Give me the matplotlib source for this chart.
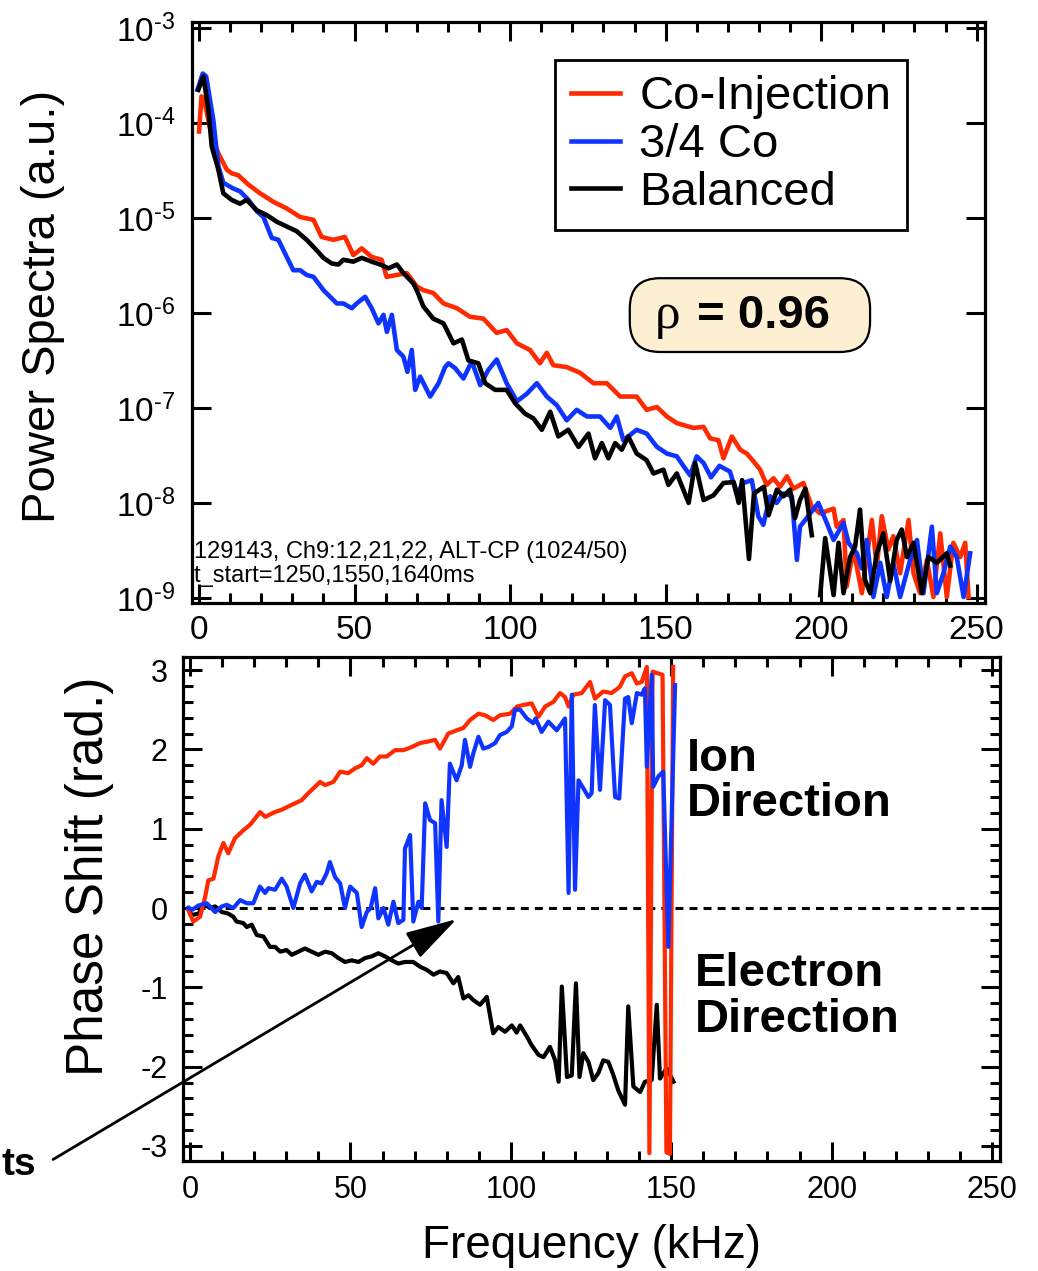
import numpy as np
import matplotlib
matplotlib.use("Agg")
import matplotlib.pyplot as plt
from matplotlib.patches import FancyBboxPatch
from matplotlib.ticker import MultipleLocator, NullLocator

plt.rcParams['font.family'] = ['Liberation Sans', 'DejaVu Sans']
plt.rcParams['mathtext.fontset'] = 'custom'
plt.rcParams['mathtext.rm'] = 'Liberation Sans'
plt.rcParams['mathtext.it'] = 'Liberation Sans:italic'
plt.rcParams['mathtext.bf'] = 'Liberation Sans:bold'
plt.rcParams['axes.unicode_minus'] = False

RED = '#ff2a00'
BLUE = '#1034ff'
BLACK = 'black'

# ==============================
# Power spectra (log10 of a.u.), frequency in kHz
# ==============================

co_f = [0.0, 0.8, 1.6, 4.1, 6.2, 8.9, 10.5, 12.6, 15.9, 19.6, 23.9, 28.2, 32.5, 36.8,
        39.4, 43.2, 46.9, 49.6, 52.3, 55.5, 58.7, 60.3, 63.6, 66.8, 70.0, 72.1, 75.3,
        78.6, 82.9, 87.1, 91.4, 95.7, 98.9, 102.2, 106.4, 109.6, 111.8, 113.9, 118.2,
        122.5, 126.8, 131.1, 135.4, 140.7, 143.9, 147.2, 150.4, 153.6, 158.9, 162.2,
        164.3, 167.0, 168.6, 171.3, 174.0, 176.1, 178.2, 180.4, 182.5, 184.7, 186.8,
        189.0, 191.1, 194.3, 197.0, 199.7, 204.0, 205.0, 207.2, 208.2, 210.4, 213.1,
        216.3, 217.9, 219.5, 221.6, 223.2, 225.4, 228.1, 229.7, 231.8, 234.0, 236.1,
        238.3, 240.4, 242.5, 244.7, 246.3, 247.4]
co_log = [-4.09, -3.72, -3.75, -4.14, -4.32, -4.49, -4.53, -4.55, -4.65, -4.74, -4.83, -4.90,
          -4.99, -5.02, -5.20, -5.23, -5.20, -5.39, -5.32, -5.41, -5.44, -5.62, -5.60, -5.58,
          -5.72, -5.76, -5.79, -5.90, -5.95, -6.04, -6.06, -6.21, -6.18, -6.32, -6.39, -6.53,
          -6.42, -6.55, -6.57, -6.63, -6.74, -6.74, -6.88, -6.88, -7.02, -6.99, -7.09, -7.16,
          -7.21, -7.20, -7.32, -7.34, -7.53, -7.30, -7.44, -7.48, -7.56, -7.65, -7.81, -7.74,
          -7.83, -7.72, -7.85, -7.79, -8.04, -8.11, -8.06, -8.25, -8.18, -8.88, -8.49, -8.95,
          -8.18, -8.67, -8.14, -8.49, -8.35, -8.74, -8.18, -8.74, -8.95, -8.60, -8.99, -8.32,
          -8.99, -8.42, -8.57, -8.42, -8.99]

q34_f = [-0.5, 1.2, 2.3, 4.6, 6.2, 7.8, 11.0, 13.2, 15.9, 18.6, 20.7, 23.4, 25.5, 28.2,
         30.3, 32.5, 34.6, 36.8, 40.0, 44.3, 46.4, 49.1, 50.7, 53.4, 55.5, 57.7, 59.3, 60.4,
         62.0, 63.6, 65.7, 67.0, 68.4, 69.5, 71.1, 74.3, 77.0, 79.1, 80.2, 82.3, 85.0, 87.7,
         90.4, 93.0, 95.7, 98.9, 102.2, 105.4, 108.6, 111.8, 115.0, 118.2, 121.4, 124.7,
         128.9, 132.2, 134.3, 136.4, 140.7, 143.9, 147.2, 150.4, 153.6, 155.5, 157.9, 160.0,
         162.2, 164.6, 167.3, 170.7, 172.8, 175.0, 177.7, 179.8, 181.4, 183.6, 185.7, 187.9,
         190.6, 192.2, 193.2, 196.5, 199.1, 201.8, 204.0, 207.2, 208.8, 211.5, 213.1, 214.7,
         216.8, 219.0, 221.1, 223.2, 225.4, 228.6, 230.8, 232.9, 235.6, 237.2, 239.3, 241.5,
         243.6, 245.8, 247.9]
q34_log = [-3.65, -3.48, -3.51, -3.97, -4.45, -4.63, -4.69, -4.72, -4.81, -4.93, -4.99, -5.21,
           -5.23, -5.41, -5.55, -5.55, -5.60, -5.62, -5.76, -5.90, -5.90, -5.95, -5.90, -5.83,
           -5.95, -6.11, -6.02, -6.20, -6.02, -6.39, -6.46, -6.62, -6.39, -6.81, -6.67, -6.88,
           -6.74, -6.57, -6.53, -6.58, -6.69, -6.51, -6.76, -6.60, -6.49, -6.74, -6.93, -6.85,
           -6.74, -6.88, -6.97, -7.13, -7.02, -7.09, -7.09, -7.21, -7.09, -7.34, -7.23, -7.27,
           -7.41, -7.48, -7.51, -7.60, -7.71, -7.51, -7.58, -7.73, -7.61, -7.67, -7.90, -7.79,
           -7.76, -8.14, -8.23, -7.93, -8.00, -7.90, -7.93, -8.60, -8.25, -8.11, -8.00, -8.21,
           -8.39, -8.21, -8.42, -8.53, -8.69, -8.39, -8.99, -8.63, -8.99, -8.63, -8.99, -8.60,
           -8.39, -8.95, -8.25, -8.95, -8.74, -8.46, -8.57, -8.99, -8.53]

bal_f = [-0.2, 1.4, 3.0, 4.1, 6.2, 7.8, 10.5, 13.2, 15.3, 18.6, 21.8, 25.0, 28.2, 31.4,
         34.6, 37.8, 40.0, 42.7, 44.8, 46.4, 49.6, 52.3, 55.5, 58.2, 60.9, 63.6, 65.7, 68.9,
         70.0, 72.1, 75.3, 78.6, 81.8, 84.5, 86.6, 89.8, 92.0, 95.2, 98.9, 101.6, 104.8,
         107.5, 110.2, 112.9, 115.5, 118.7, 122.0, 125.2, 127.3, 129.5, 131.6, 133.8, 135.9,
         138.0, 140.7, 143.9, 146.1, 149.3, 150.9, 153.6, 157.4, 159.5, 162.2, 165.4, 168.6,
         171.9, 173.5, 174.6, 176.8, 178.4, 181.6, 183.1, 185.8, 187.9, 190.0, 191.6, 193.2,
         194.9, 197.0, 198.4, 199.7, 201.3, 204.0, 205.6, 207.2, 209.3, 210.9, 212.5, 214.1,
         215.8, 217.9, 220.0, 222.2, 224.3, 225.9, 227.6, 229.7, 232.4, 234.5, 237.2, 240.4,
         241.5]
bal_log = [-3.65, -3.51, -3.86, -4.25, -4.49, -4.74, -4.81, -4.85, -4.81, -4.92, -4.97, -5.04,
           -5.09, -5.14, -5.23, -5.34, -5.42, -5.48, -5.49, -5.44, -5.46, -5.42, -5.46, -5.49,
           -5.53, -5.49, -5.58, -5.69, -5.76, -5.93, -6.06, -6.11, -6.32, -6.28, -6.50, -6.53,
           -6.74, -6.81, -6.81, -6.95, -7.06, -7.11, -7.23, -7.04, -7.30, -7.23, -7.41, -7.27,
           -7.53, -7.37, -7.53, -7.37, -7.44, -7.30, -7.48, -7.55, -7.69, -7.65, -7.81, -7.69,
           -8.00, -7.58, -7.97, -7.92, -7.79, -7.78, -8.00, -7.76, -8.59, -7.90, -7.83, -8.13,
           -7.86, -7.93, -7.86, -8.16, -7.97, -7.85, -8.34, np.nan, -8.97, -8.37, -8.97, -8.42,
           -8.95, -8.57, -8.46, -8.07, -8.81, -8.95, -8.53, -8.32, -8.82, -8.39, -8.28, -8.57,
           -8.42, -8.95, -8.57, -8.63, -8.53, -8.66]

# ==============================
# Phase shift (rad), frequency in kHz
# ==============================

co_pf = [-0.5, 1.0, 3.1, 4.7, 5.7, 7.3, 8.8, 10.4, 11.9, 14.0, 16.6, 18.7, 20.3, 21.8, 23.4,
         26.5, 28.6, 30.6, 32.7, 34.8, 36.9, 39.0, 40.5, 42.1, 44.7, 46.8, 49.3, 51.4, 53.5,
         55.1, 57.1, 59.2, 61.3, 63.9, 66.5, 69.1, 71.7, 74.3, 76.4, 77.9, 80.5, 83.1, 85.2,
         87.3, 89.9, 92.0, 94.5, 96.6, 99.8, 101.9, 103.9, 106.5, 108.6, 110.7, 113.3, 115.3,
         116.9, 118.0, 119.5, 122.1, 124.7, 126.2, 128.8, 131.4, 134.0, 135.6, 137.7, 139.3,
         140.8, 142.4, 143.2, 144.2, 145.8, 147.3, 148.5, 149.6, 150.6]
co_phase = [-0.03, -0.17, -0.11, 0.14, 0.35, 0.37, 0.65, 0.82, 0.69, 0.88, 0.98, 1.05, 1.13,
            1.21, 1.15, 1.21, 1.24, 1.28, 1.32, 1.36, 1.45, 1.53, 1.59, 1.55, 1.59, 1.72, 1.70,
            1.76, 1.80, 1.89, 1.82, 1.91, 1.91, 1.99, 1.99, 2.03, 2.08, 2.10, 2.12, 2.01, 2.20,
            2.24, 2.27, 2.37, 2.45, 2.43, 2.37, 2.43, 2.45, 2.54, 2.56, 2.58, 2.41, 2.54, 2.60,
            2.71, 2.66, 2.54, 2.69, 2.71, 2.85, 2.64, 2.73, 2.71, 2.79, 2.92, 2.96, 2.83, 2.85,
            3.04, -3.09, 2.98, 2.96, 2.94, -3.08, -3.10, 3.04]

q34_pf = [-0.5, 0.8, 2.5, 5.2, 7.8, 9.9, 11.4, 13.5, 15.6, 17.7, 19.7, 21.8, 23.4, 24.4, 26.5,
          28.6, 30.1, 32.2, 34.3, 35.8, 37.9, 39.5, 41.0, 42.6, 43.6, 45.2, 46.8, 48.3, 49.9,
          52.0, 53.5, 55.1, 56.3, 57.7, 58.7, 60.3, 61.8, 63.4, 64.9, 66.5, 67.0, 68.6, 69.6,
          71.2, 72.2, 73.3, 74.8, 76.4, 77.4, 78.4, 80.0, 81.0, 83.1, 84.7, 85.7, 87.3, 88.3,
          89.9, 91.4, 93.0, 95.1, 96.6, 98.7, 100.3, 101.3, 102.9, 105.0, 107.0, 107.7, 109.6,
          111.7, 114.3, 116.9, 118.0, 119.0, 120.0, 121.1, 122.6, 124.2, 125.2, 126.2, 127.8,
          129.4, 130.9, 132.5, 133.8, 135.6, 136.6, 137.7, 139.3, 140.8, 141.8, 142.4, 143.9,
          144.4, 146.0, 147.5, 149.1, 151.2]
q34_phase = [0.00, -0.02, 0.03, 0.06, -0.05, 0.02, 0.04, 0.00, 0.10, 0.06, 0.06, 0.27, 0.19,
             0.25, 0.23, 0.37, 0.27, 0.00, 0.31, 0.42, 0.21, 0.33, 0.31, 0.44, 0.58, 0.39, 0.31,
             0.00, 0.27, 0.19, -0.24, -0.05, 0.00, 0.25, -0.13, 0.00, -0.21, 0.08, -0.19, -0.15,
             0.75, 0.92, -0.17, 0.08, 0.00, 1.32, 1.11, 1.07, -0.17, 1.36, 0.77, 1.82, 1.61,
             1.80, 2.12, 1.78, 1.95, 2.16, 2.01, 2.03, 2.08, 2.18, 2.22, 2.29, 2.50, 2.50, 2.39,
             2.33, 2.39, 2.22, 2.35, 2.24, 2.39, 0.19, 2.69, 0.23, 1.61, 1.51, 1.40, 1.45, 2.56,
             1.49, 2.62, 2.56, 1.40, 1.38, 2.64, 2.66, 2.33, 2.71, 2.69, 2.77, 1.78, 2.94, 1.53,
             1.66, 1.72, -0.49, 2.81]

bal_pf = [-0.5, 0.5, 2.6, 4.7, 6.2, 7.8, 9.9, 11.9, 13.5, 14.5, 16.6, 17.7, 19.2, 20.8, 22.9,
          24.9, 26.5, 28.1, 30.1, 31.7, 33.8, 35.8, 37.9, 40.0, 42.1, 44.2, 46.2, 48.3, 50.4,
          52.5, 54.6, 56.6, 58.7, 60.8, 62.9, 64.9, 67.0, 69.6, 71.7, 73.8, 75.9, 77.9, 80.0,
          82.1, 83.6, 85.2, 86.8, 88.3, 90.4, 92.5, 94.5, 96.1, 98.2, 100.3, 101.8, 102.9,
          105.0, 106.5, 108.6, 110.2, 112.2, 113.8, 114.9, 115.9, 117.5, 119.0, 120.3, 121.4,
          122.6, 124.2, 125.7, 127.3, 128.8, 130.4, 132.0, 133.5, 135.6, 136.6, 138.2, 140.3,
          141.8, 143.9, 145.5, 146.5, 148.6, 150.7]
bal_phase = [0.00, -0.09, -0.07, 0.04, 0.00, 0.02, -0.05, -0.07, -0.11, -0.17, -0.19, -0.24,
             -0.21, -0.34, -0.36, -0.49, -0.49, -0.55, -0.53, -0.59, -0.55, -0.51, -0.55, -0.59,
             -0.55, -0.57, -0.63, -0.68, -0.66, -0.68, -0.63, -0.61, -0.57, -0.61, -0.66, -0.70,
             -0.68, -0.68, -0.74, -0.78, -0.84, -0.80, -0.82, -0.95, -0.87, -1.14, -1.10, -1.16,
             -1.22, -1.12, -1.58, -1.50, -1.56, -1.48, -1.57, -1.48, -1.62, -1.73, -1.85, -1.88,
             -1.75, -1.92, -2.19, -0.99, -2.13, -2.11, -0.95, -2.13, -1.83, -1.94, -2.17, -2.08,
             -1.92, -1.94, -2.11, -2.30, -2.48, -1.24, -2.25, -2.32, -2.19, -2.17, -1.22, -2.15,
             -2.02, -2.19]

labels = ['Co-Injection', '3/4 Co', 'Balanced']
decades = [-9, -8, -7, -6, -5, -4, -3]

# ==============================
# Figure
# ==============================

fig = plt.figure(figsize=(10.38, 12.71), dpi=100)
ax1 = fig.add_axes([0.185, 0.5256, 0.764, 0.4571])
ax2 = fig.add_axes([0.1763, 0.0865, 0.7871, 0.3966])

# --- top: power spectra ---
ax1.semilogy(co_f, 10.0 ** np.array(co_log), color=RED, lw=3.3, label=labels[0], zorder=2)
ax1.semilogy(q34_f, 10.0 ** np.array(q34_log), color=BLUE, lw=3.3, label=labels[1], zorder=3)
ax1.semilogy(bal_f, 10.0 ** np.array(bal_log), color=BLACK, lw=3.3, label=labels[2], zorder=4)

ax1.set_xlim(-2.25, 252.7)
ax1.set_ylim(10 ** -9.053, 10 ** -2.937)
ax1.set_yticks([10.0 ** d for d in decades])
# hyphen (U+2010) in the exponent, as in the original figure
ax1.set_yticklabels(['$\\mathdefault{10^{\u2010%d}}$' % (-d) for d in decades])
ax1.yaxis.set_minor_locator(NullLocator())
ax1.xaxis.set_major_locator(MultipleLocator(50))
ax1.xaxis.set_minor_locator(MultipleLocator(10))
ax1.set_ylabel('Power Spectra (a.u.)', fontsize=34)
ax1.yaxis.set_label_coords(-0.160, 0.51)
ax1.tick_params(axis='x', which='major', pad=9)
ax1.tick_params(axis='y', which='major', pad=12)
ax1.tick_params(labelsize=24)

leg = ax1.legend(loc='upper left', bbox_to_anchor=(0.458, 0.935), fontsize=34,
                 fancybox=False, edgecolor='black', framealpha=1, borderaxespad=0,
                 borderpad=0.33, labelspacing=0.08, handlelength=1.05, handletextpad=0.4)
leg.get_frame().set_linewidth(2)

box = FancyBboxPatch((0.552, 0.432), 0.303, 0.127,
                     boxstyle='round,pad=0,rounding_size=0.038',
                     mutation_aspect=793 / 581, transform=ax1.transAxes,
                     facecolor='#fdf0d2', edgecolor='black', lw=1.6, zorder=5)
ax1.add_patch(box)
ax1.text(0.584, 0.473, 'ρ', fontsize=37, family='Liberation Serif',
         transform=ax1.transAxes, va='baseline', ha='left', zorder=6)
ax1.text(0.637, 0.473, '= 0.96', fontsize=34, weight='bold',
         transform=ax1.transAxes, va='baseline', ha='left', zorder=6)

ax1.text(0.002, 0.0775, '129143, Ch9:12,21,22, ALT-CP (1024/50)', fontsize=17,
         transform=ax1.transAxes, va='baseline', ha='left')
ax1.text(0.002, 0.036, 't_start=1250,1550,1640ms', fontsize=17,
         transform=ax1.transAxes, va='baseline', ha='left')

# --- bottom: phase shift ---
ax2.axhline(0, color='black', lw=2.2, ls=(0, (2.6, 2.0)), zorder=1)
ax2.plot(bal_pf, bal_phase, color=BLACK, lw=3, zorder=2)
ax2.plot(co_pf, co_phase, color=RED, lw=3, zorder=3)
ax2.plot(q34_pf, q34_phase, color=BLUE, lw=3, zorder=4)

ax2.set_xlim(-2.2, 252.5)
ax2.set_ylim(-3.19, 3.165)
ax2.xaxis.set_major_locator(MultipleLocator(50))
ax2.xaxis.set_minor_locator(MultipleLocator(10))
ax2.yaxis.set_major_locator(MultipleLocator(1))
ax2.yaxis.set_minor_locator(MultipleLocator(0.2))
ax2.set_xlabel('Frequency (kHz)', fontsize=33)
ax2.xaxis.set_label_coords(0.5, -0.125)
ax2.set_ylabel('Phase Shift (rad.)', fontsize=37)
ax2.yaxis.set_label_coords(-0.0845, 0.565)
ax2.tick_params(labelsize=22)
ax2.tick_params(axis='x', which='major', pad=10)
ax2.tick_params(axis='y', which='major', pad=11)

ax2.text(154.9, 2.16, 'Ion\nDirection', fontsize=34, weight='bold',
         va='top', ha='left', linespacing=1.05)
ax2.text(157.4, -0.555, 'Electron\nDirection', fontsize=34, weight='bold',
         va='top', ha='left', linespacing=1.05)

ax2.annotate('', xy=(83.1, -0.14), xytext=(-42.7, -3.17),
             arrowprops=dict(arrowstyle='-|>,head_length=1.6,head_width=0.45',
                             color='black', lw=2, mutation_scale=20,
                             shrinkA=0, shrinkB=0),
             annotation_clip=False)
fig.text(1 / 1038, 1 - 1165 / 1271, 'ts', fontsize=28, weight='bold',
         ha='left', va='center')

for ax in (ax1, ax2):
    for s in ax.spines.values():
        s.set_linewidth(2.3)
    ax.tick_params(which='both', direction='in', top=True, right=True, width=2.2)
    ax.tick_params(which='major', length=14)
    ax.tick_params(which='minor', length=7.5)

fig.savefig('out.png', dpi=100)
